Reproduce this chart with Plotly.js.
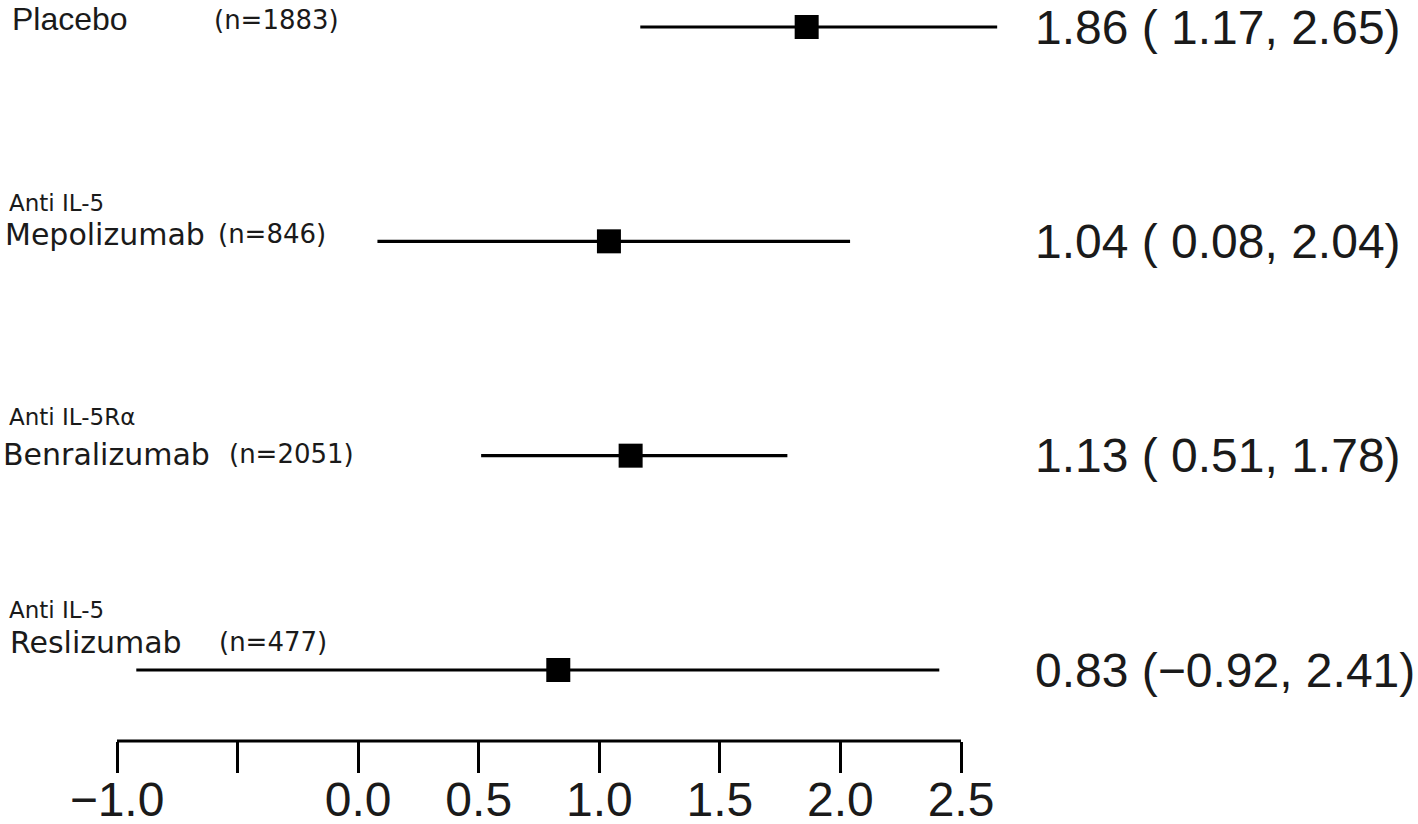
<!DOCTYPE html>
<html>
<head>
<meta charset="utf-8">
<script src="https://cdn.plot.ly/plotly-3.0.1.min.js"></script>
<style>
  html, body { margin: 0; padding: 0; background: #fff; }
  #chart { width: 1418px; height: 824px; }
</style>
</head>
<body>
<div id="chart"></div>
<script>
// ---- data ----
const drugs = ["Placebo", "Mepolizumab", "Benralizumab", "Reslizumab"];
const groups = ["", "Anti IL-5", "Anti IL-5R\u03b1", "Anti IL-5"];
const nLabels = ["(n=1883)", "(n=846)", "(n=2051)", "(n=477)"];
const estimates = [1.86, 1.04, 1.13, 0.83];
const lower = [1.17, 0.08, 0.51, -0.92];
const upper = [2.65, 2.04, 1.78, 2.41];
const rows = [4, 3, 2, 1];
const tickVals = [-1.0, -0.5, 0.0, 0.5, 1.0, 1.5, 2.0, 2.5];
const tickText = ["\u22121.0", "", "0.0", "0.5", "1.0", "1.5", "2.0", "2.5"];

// ---- layout constants (pixel positions) ----
const W = 1418, H = 824, PLOT_H = 741;
const drugPos = [[11, 0], [4, 234], [2, 454], [9, 642]];
const nPos = [[213, 20], [217, 234], [228, 454], [218, 642]];
const groupPos = [null, [8, 203], [8, 417], [8, 610]];
const rightX = 1033;

const px = x => x / W;
const py = y => 1 - y / PLOT_H;

function fmt(v) {
  const s = Math.abs(v).toFixed(2);
  return v < 0 ? "\u2212" + s : " " + s;
}

const trace = {
  type: "scatter",
  mode: "markers",
  x: estimates,
  y: rows,
  marker: { symbol: "square", size: 24, color: "#000" },
  error_x: {
    type: "data",
    symmetric: false,
    array: upper.map((u, i) => u - estimates[i]),
    arrayminus: lower.map((l, i) => estimates[i] - l),
    width: 0,
    thickness: 3.2,
    color: "#000"
  },
  hoverinfo: "skip",
  showlegend: false
};

const annotations = [];
drugs.forEach((d, i) => {
  annotations.push({
    text: d, xref: "paper", yref: "paper",
    x: px(drugPos[i][0]), y: py(drugPos[i][1]),
    xanchor: "left", yanchor: i === 0 ? "top" : "middle", showarrow: false, borderpad: 0,
    font: i === 0 ? { family: "Liberation Sans, Arial", size: 32, color: "#1a1a1a" }
                  : { family: "DejaVu Sans", size: 30, color: "#1a1a1a" }
  });
  annotations.push({
    text: nLabels[i], xref: "paper", yref: "paper",
    x: px(nPos[i][0]), y: py(nPos[i][1]),
    xanchor: "left", yanchor: "middle", showarrow: false, borderpad: 0,
    font: { family: "DejaVu Sans", size: 26, color: "#1a1a1a" }
  });
  if (groups[i]) {
    annotations.push({
      text: groups[i], xref: "paper", yref: "paper",
      x: px(groupPos[i][0]), y: py(groupPos[i][1]),
      xanchor: "left", yanchor: "middle", showarrow: false, borderpad: 0,
      font: { family: "DejaVu Sans", size: 23, color: "#1a1a1a" }
    });
  }
  annotations.push({
    text: estimates[i].toFixed(2) + " (" + fmt(lower[i]) + ", " + upper[i].toFixed(2) + ")",
    xref: "paper", yref: "y",
    x: px(rightX), y: rows[i],
    xanchor: "left", yanchor: "middle", showarrow: false,
    font: { family: "Liberation Sans, Arial", size: 48, color: "#1a1a1a" }
  });
});

// x range so that -1.0 sits at pixel 117 and 2.5 at pixel 961
const pxPerUnit = (961 - 117) / 3.5;
const xMin = -1 - 117 / pxPerUnit;
const xMax = -1 + (W - 117) / pxPerUnit;
// y range so that row 4 sits at pixel 27 and row 1 at pixel 670
const pyPerUnit = (670 - 27) / 3;
const yMax = 4 + 27 / pyPerUnit;
const yMin = yMax - PLOT_H / pyPerUnit;

const layout = {
  width: W, height: H,
  margin: { l: 0, r: 0, t: 0, b: H - PLOT_H, pad: 0 },
  paper_bgcolor: "#fff", plot_bgcolor: "#fff",
  xaxis: {
    range: [xMin, xMax],
    tickmode: "array", tickvals: tickVals, ticktext: tickText,
    ticks: "outside", ticklen: 31, tickwidth: 3, tickcolor: "#000",
    ticklabelstandoff: -15,
    showgrid: false, zeroline: false, showline: false,
    tickfont: { family: "Liberation Sans, Arial", size: 48, color: "#1a1a1a" },
    fixedrange: true
  },
  yaxis: {
    range: [yMin, yMax],
    showticklabels: false, showgrid: false, zeroline: false, showline: false, ticks: "",
    fixedrange: true
  },
  shapes: [{
    type: "line", xref: "x", yref: "paper",
    x0: tickVals[0], x1: tickVals[tickVals.length - 1], y0: 0, y1: 0,
    line: { color: "#000", width: 3 }
  }],
  annotations: annotations,
  showlegend: false
};

Plotly.newPlot("chart", [trace], layout, { staticPlot: true, displayModeBar: false });
</script>
</body>
</html>
